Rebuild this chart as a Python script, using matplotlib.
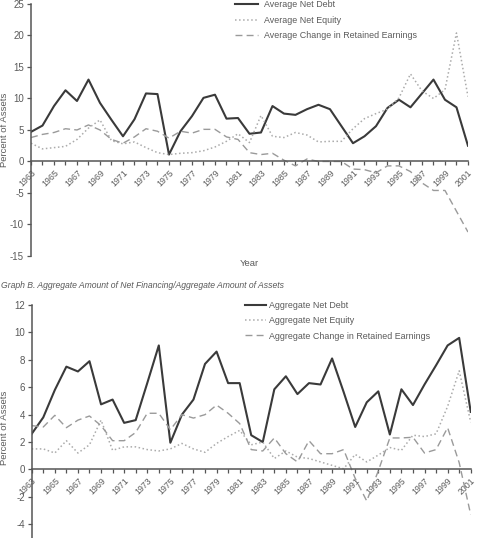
#! /usr/bin/env python3
"""
Net financing as a percent of assets, 1963-2001.
Graph A: average amounts, Graph B: aggregate amounts.
"""
from matplotlib import pyplot as plt
import numpy as np

# ============================================================================ #
# Data (percent of assets).
years = np.arange(1963, 2002)
year_ticks = np.arange(1963, 2002, 2)

avg_net_debt = [4.7, 5.7, 8.8, 11.3, 9.6, 13.0, 9.3, 6.6, 4.0, 6.7,
                10.8, 10.7, 1.1, 4.8, 7.2, 10.1, 10.6, 6.8, 6.9, 4.4,
                4.6, 8.8, 7.6, 7.4, 8.3, 9.0, 8.3, 5.6, 2.9, 4.0,
                5.6, 8.5, 9.8, 8.6, 10.8, 13.0, 9.8, 8.6, 2.5]
avg_net_equity = [2.9, 2.0, 2.2, 2.4, 3.5, 5.3, 6.6, 3.3, 2.8, 3.1,
                  2.2, 1.4, 1.1, 1.3, 1.4, 1.7, 2.3, 3.2, 4.4, 3.0,
                  7.3, 4.0, 3.8, 4.6, 4.2, 3.1, 3.2, 3.2, 5.2, 6.8,
                  7.6, 8.3, 10.1, 13.9, 11.2, 10.0, 11.4, 20.4, 10.3]
avg_retained = [3.8, 4.3, 4.6, 5.2, 5.0, 5.8, 5.0, 3.5, 2.9, 3.9,
                5.2, 4.8, 3.7, 4.8, 4.5, 5.1, 5.1, 3.9, 3.5, 1.4,
                1.1, 1.3, 0.2, -0.7, 0.4, 0.0, 0.0, 0.0, -1.2, -1.3,
                -1.8, -0.7, -0.7, -1.6, -3.4, -4.6, -4.6, -7.9, -11.2]

agg_net_debt = [2.6, 3.8, 5.8, 7.5, 7.15, 7.9, 4.75, 5.1, 3.4, 3.6,
                6.3, 9.05, 1.95, 4.0, 5.1, 7.7, 8.6, 6.3, 6.3, 2.5,
                2.0, 5.85, 6.8, 5.5, 6.3, 6.2, 8.1, 5.65, 3.1, 4.9,
                5.7, 2.55, 5.85, 4.7, 6.2, 7.6, 9.05, 9.6, 4.2]
agg_net_equity = [1.5, 1.5, 1.2, 2.1, 1.2, 1.8, 3.6, 1.4, 1.65, 1.65,
                  1.45, 1.35, 1.5, 1.9, 1.5, 1.25, 1.9, 2.4, 2.85, 1.8,
                  2.0, 0.8, 1.35, 0.9, 0.8, 0.55, 0.3, 0.05, 1.1, 0.55,
                  1.05, 1.6, 1.4, 2.5, 2.4, 2.6, 4.6, 7.2, 3.45]
agg_retained = [3.2, 3.1, 3.95, 3.05, 3.6, 3.9, 3.2, 2.1, 2.1, 2.7,
                4.1, 4.1, 2.9, 4.0, 3.75, 4.0, 4.7, 4.1, 3.35, 1.45,
                1.35, 2.3, 1.15, 0.55, 2.1, 1.15, 1.15, 1.45, -0.65, -2.3,
                -0.1, 2.3, 2.3, 2.35, 1.2, 1.45, 3.05, 0.5, -3.3]

yticks_a = [-15, -10, -5, 0, 5, 10, 15, 20, 25]
yticks_b = [-4, -2, 0, 2, 4, 6, 8, 10, 12]

# ============================================================================ #
# Styles
plt.rcParams['font.family'] = ['Liberation Sans', 'DejaVu Sans']
plt.rcParams['axes.unicode_minus'] = False
text_col = '#5a5a5a'
axis_col = '#555555'
debt_style = dict(color='#3a3a3a', linestyle='-', linewidth=1.5)
equity_style = dict(color='#ababab', linestyle=':', linewidth=1.1)
retained_style = dict(color='#9a9a9a', linestyle=(0, (5, 3)), linewidth=1.0)


def style_axes(ax, ylim, yticks):
    """Spines: left one plus the year axis drawn at zero."""
    ax.set_xlim(1963, 2001)
    ax.set_ylim(*ylim)
    ax.spines['top'].set_visible(False)
    ax.spines['right'].set_visible(False)
    ax.spines['bottom'].set_position(('data', 0))
    for side in ('left', 'bottom'):
        ax.spines[side].set_color(axis_col)
        ax.spines[side].set_linewidth(1.1)
    ax.set_xticks(years, minor=True)
    ax.set_xticks(year_ticks)
    ax.set_xticklabels([str(y) for y in year_ticks], rotation=45,
                       ha='right', va='top', rotation_mode='anchor')
    ax.set_yticks(yticks)
    ax.tick_params(axis='x', which='both', direction='out', length=3,
                   width=0.9, color=axis_col, labelsize=6.3,
                   labelcolor=text_col, pad=2)
    ax.tick_params(axis='y', direction='out', length=3, width=0.9,
                   color=axis_col, labelsize=7, labelcolor=text_col, pad=2)
    ax.patch.set_alpha(0)


fig = plt.figure(figsize=(4.82, 5.38), dpi=100)

# ============================================================================ #
# Graph A
ax1 = fig.add_axes([0.0643, 0.5242, 0.9066, 0.4684])
ax1.plot(years, avg_net_debt, label='Average Net Debt', **debt_style)
ax1.plot(years, avg_net_equity, label='Average Net Equity', **equity_style)
ax1.plot(years, avg_retained, label='Average Change in Retained Earnings',
         **retained_style)
style_axes(ax1, (-15, 25), yticks_a)
ax1.legend(loc='upper left', bbox_to_anchor=(0.467, 1.014), frameon=False,
           fontsize=6.4, labelcolor=text_col, borderpad=0, borderaxespad=0,
           handlelength=2.6, handletextpad=0.6, labelspacing=0.72)
ax1.text(0.5, -0.012, 'Year', transform=ax1.transAxes, ha='center',
         va='top', fontsize=6.8, color=text_col)
fig.text(5 / 482, 0.5242 + 0.4684 / 2, 'Percent of Assets', rotation=90,
         ha='center', va='center', fontsize=6.8, color=text_col)

# ============================================================================ #
# Graph B
fig.text(1 / 482, 1 - 285 / 538,
         'Graph B. Aggregate Amount of Net Financing/Aggregate Amount of Assets',
         ha='left', va='center', fontsize=6.2, style='italic', color=text_col)

ax2 = fig.add_axes([0.0658, 0.0, 0.9108, 0.4331])
ax2.plot(years, agg_net_debt, label='Aggregate Net Debt', **debt_style)
ax2.plot(years, agg_net_equity, label='Aggregate Net Equity', **equity_style)
ax2.plot(years, agg_retained, label='Aggregate Change in Retained Earnings',
         **retained_style)
style_axes(ax2, (-5, 12), yticks_b)
ax2.legend(loc='upper left', bbox_to_anchor=(0.486, 1.018), frameon=False,
           fontsize=6.4, labelcolor=text_col, borderpad=0, borderaxespad=0,
           handlelength=2.4, handletextpad=0.3, labelspacing=0.72)
fig.text(5 / 482, 1 - 428 / 538, 'Percent of Assets',
         rotation=90, ha='center', va='center', fontsize=6.8, color=text_col)

plt.savefig('out.png', dpi=100)
